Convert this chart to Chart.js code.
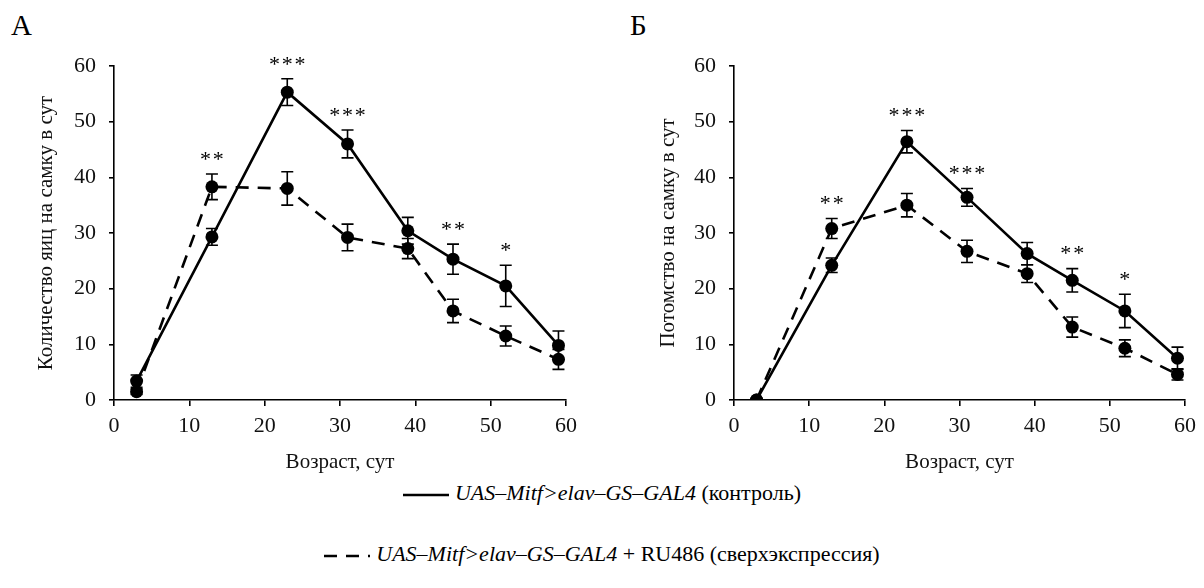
<!DOCTYPE html>
<html lang="ru">
<head>
<meta charset="UTF-8" />
<title>Mitf</title>
<script src="https://cdn.jsdelivr.net/npm/chart.js"></script>
<style>
  body { margin: 0; background: #fff; width: 1204px; height: 588px; position: relative; overflow: hidden;
         font-family: "Liberation Serif", "Times New Roman", serif; color: #000; }
  .wrap { position: absolute; top: 0; height: 480px; }
  .panel-label { position: absolute; font-size: 29px; line-height: 1; }
  .legend { position: absolute; left: 0; width: 1204px; text-align: center; font-size: 22px; white-space: nowrap; }
  .legend svg { vertical-align: middle; margin-right: 6px; }
  .legend i { font-style: italic; }
</style>
</head>
<body>
  <div class="panel-label" style="left:11px; top:11px;">А</div>
  <div class="panel-label" style="left:630px; top:11px;">Б</div>
  <div class="wrap" style="left:0; width:600px;"><canvas id="chartA"></canvas></div>
  <div class="wrap" style="left:600px; width:604px;"><canvas id="chartB"></canvas></div>
  <div class="legend" style="top:480px; padding-left:0;">
    <svg width="46" height="6"><line x1="0" y1="3" x2="46" y2="3" stroke="#000" stroke-width="2.5" /></svg><i>UAS–Mitf&gt;elav–GS–GAL4</i> (контроль)
  </div>
  <div class="legend" style="top:541px;">
    <svg width="46" height="6"><line x1="0" y1="3" x2="46" y2="3" stroke="#000" stroke-width="2.5" stroke-dasharray="13 9" /></svg><i>UAS–Mitf&gt;elav–GS–GAL4</i> + RU486 (сверхэкспрессия)
  </div>
<script>
  // возраст, сут
  const ages = [3, 13, 23, 31, 39, 45, 52, 59];

  // А: количество яиц на самку в сут
  const eggsControl = [3.4, 29.3, 55.3, 46.0, 30.4, 25.3, 20.5, 9.8];
  const eggsControlErr = [1.1, 1.5, 2.4, 2.5, 2.4, 2.7, 3.7, 2.6];
  const eggsRu = [1.5, 38.3, 38.0, 29.2, 27.2, 16.0, 11.5, 7.3];
  const eggsRuErr = [0.5, 2.3, 3.0, 2.4, 1.8, 2.1, 1.8, 1.8];
  const eggsStars = ["", "**", "***", "***", "", "**", "*", ""];

  // Б: потомство на самку в сут
  const offspringControl = [0, 24.2, 46.4, 36.4, 26.3, 21.5, 16.0, 7.5];
  const offspringControlErr = [0, 1.3, 2.0, 1.6, 2.0, 2.1, 3.0, 2.0];
  const offspringRu = [0, 30.8, 35.0, 26.7, 22.7, 13.1, 9.3, 4.6];
  const offspringRuErr = [0, 1.8, 2.1, 2.0, 1.6, 1.8, 1.5, 1.0];
  const offspringStars = ["", "**", "***", "***", "", "**", "*", ""];

  const fontFamily = '"Liberation Serif", "Times New Roman", serif';

  // планки погрешностей и звездочки значимости
  const errorBarsPlugin = {
    id: "errorBars",
    afterDatasetsDraw(chart, args, opts) {
      const ctx = chart.ctx;
      const xs = chart.scales.x;
      const ys = chart.scales.y;
      ctx.save();
      ctx.strokeStyle = "#000";
      ctx.lineWidth = 1.6;
      chart.data.datasets.forEach((ds) => {
        ds.data.forEach((p, i) => {
          const e = ds.errors[i];
          if (!e) return;
          const px = xs.getPixelForValue(p.x);
          const top = ys.getPixelForValue(p.y + e);
          const bot = ys.getPixelForValue(p.y - e);
          ctx.beginPath();
          ctx.moveTo(px, top);
          ctx.lineTo(px, bot);
          ctx.moveTo(px - 6, top);
          ctx.lineTo(px + 6, top);
          ctx.moveTo(px - 6, bot);
          ctx.lineTo(px + 6, bot);
          ctx.stroke();
        });
      });
      ctx.fillStyle = "#000";
      ctx.font = "22px " + fontFamily;
      ctx.textAlign = "center";
      ctx.textBaseline = "middle";
      opts.stars.forEach((s, i) => {
        if (!s) return;
        let highest = Infinity;
        chart.data.datasets.forEach((ds) => {
          const p = ds.data[i];
          highest = Math.min(highest, ys.getPixelForValue(p.y + (ds.errors[i] || 0)));
        });
        ctx.fillText(s.split("").join("\u200A"), xs.getPixelForValue(ages[i]), highest - 14);
      });
      ctx.restore();
    },
  };

  const makeChart = (id, control, controlErr, ru, ruErr, stars, yTitle, pad) => {
    const toPoints = (vals) => vals.map((v, i) => ({ x: ages[i], y: v }));
    return new Chart(document.getElementById(id), {
      type: "line",
      data: {
        datasets: [
          {
            label: "UAS–Mitf>elav–GS–GAL4 (контроль)",
            data: toPoints(control),
            errors: controlErr,
            borderColor: "#000",
            backgroundColor: "#000",
            borderWidth: 2.6,
            pointRadius: 6.5,
            pointBorderWidth: 0,
            tension: 0,
          },
          {
            label: "UAS–Mitf>elav–GS–GAL4 + RU486 (сверхэкспрессия)",
            data: toPoints(ru),
            errors: ruErr,
            borderColor: "#000",
            backgroundColor: "#000",
            borderWidth: 2.6,
            borderDash: [13, 9],
            pointRadius: 6.5,
            pointBorderWidth: 0,
            tension: 0,
          },
        ],
      },
      options: {
        responsive: true,
        maintainAspectRatio: false,
        animation: false,
        events: [],
        layout: { padding: { top: 66, right: pad.right, bottom: 0, left: pad.left } },
        plugins: {
          legend: { display: false },
          tooltip: { enabled: false },
          errorBars: { stars: stars },
        },
        scales: {
          x: {
            type: "linear",
            min: 0,
            max: 60,
            ticks: { stepSize: 10, color: "#111", padding: 7, font: { family: fontFamily, size: 22 } },
            grid: { drawOnChartArea: false, drawTicks: true, tickLength: 6, color: "#000", lineWidth: 1.6 },
            border: { color: "#000", width: 1.6 },
            title: {
              display: true,
              text: "Возраст, сут",
              color: "#111",
              font: { family: fontFamily, size: 21 },
              padding: { top: 0, bottom: 5 },
            },
            afterFit: (scale) => { scale.height = 80; },
          },
          y: {
            min: 0,
            max: 60,
            ticks: { stepSize: 10, color: "#111", padding: 13, font: { family: fontFamily, size: 22 } },
            grid: { drawOnChartArea: false, drawTicks: true, tickLength: 5, color: "#000", lineWidth: 1.6 },
            border: { color: "#000", width: 1.6 },
            title: {
              display: true,
              text: yTitle,
              color: "#111",
              font: { family: fontFamily, size: 21 },
              padding: { top: 0, bottom: 0 },
            },
            afterFit: (scale) => { scale.width = pad.axis; },
          },
        },
      },
      plugins: [errorBarsPlugin],
    });
  };

  makeChart("chartA", eggsControl, eggsControlErr, eggsRu, eggsRuErr, eggsStars,
    "Количество яиц на самку в сут", { left: 34, axis: 80, right: 34 });
  makeChart("chartB", offspringControl, offspringControlErr, offspringRu, offspringRuErr, offspringStars,
    "Потомство на самку в сут", { left: 56, axis: 78, right: 19 });
</script>
</body>
</html>
